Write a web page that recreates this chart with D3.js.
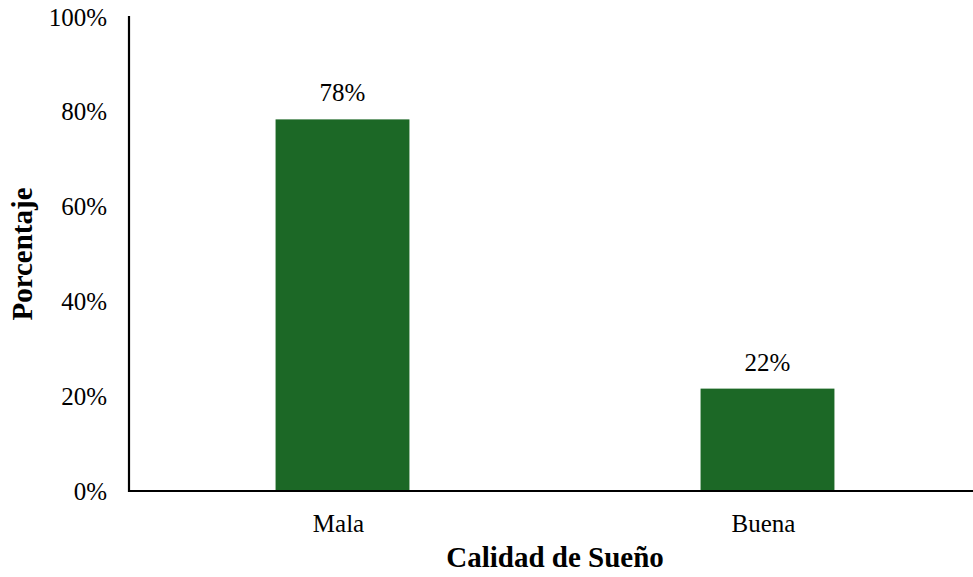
<!DOCTYPE html>
<html>
<head>
<meta charset="utf-8">
<script src="https://cdn.jsdelivr.net/npm/d3@7"></script>
<style>
  body { margin: 0; background: #fff; }
  svg { display: block; font-family: "Liberation Serif", "Times New Roman", serif; }
</style>
</head>
<body>
<svg id="chart" width="973" height="577"></svg>
<script>
// data
var categories = ["Mala", "Buena"];
var values = [78.4, 21.6];
var valueLabels = ["78%", "22%"];
var yTicks = [0, 20, 40, 60, 80, 100];

var svg = d3.select("#chart");
var W = 973;

var x = d3.scaleBand()
    .domain(categories)
    .range([130, 980])
    .paddingInner(0.685)
    .paddingOuter(0.3425);

var y = d3.scaleLinear()
    .domain([0, 100])
    .range([491, 17]);

// bars
svg.selectAll("rect.bar")
    .data(categories)
    .enter()
    .append("rect")
    .attr("class", "bar")
    .attr("x", d => x(d))
    .attr("width", x.bandwidth())
    .attr("y", (d, i) => y(values[i]))
    .attr("height", (d, i) => y(0) - y(values[i]))
    .style("fill", "#1c6826");

// value labels
svg.selectAll("text.val")
    .data(categories)
    .enter()
    .append("text")
    .attr("class", "val")
    .attr("x", d => x(d) + x.bandwidth() / 2)
    .attr("y", (d, i) => y(values[i]) - 18)
    .attr("text-anchor", "middle")
    .style("font-size", "25px")
    .style("fill", "#000")
    .text((d, i) => valueLabels[i]);

// y axis
var yAxis = d3.axisLeft(y)
    .tickValues(yTicks)
    .tickSize(0)
    .tickPadding(22)
    .tickFormat(d => d + "%");

var gy = svg.append("g")
    .attr("transform", "translate(129,0)")
    .call(yAxis);
gy.select(".domain").remove();
gy.selectAll("text")
    .style("font-family", "Liberation Serif, serif")
    .style("font-size", "25px")
    .style("fill", "#000");

// x axis labels
var xAxis = d3.axisBottom(x)
    .tickSize(0)
    .tickPadding(23);
var gx = svg.append("g")
    .attr("transform", "translate(-4,491)")
    .call(xAxis);
gx.select(".domain").remove();
gx.selectAll("text")
    .style("font-family", "Liberation Serif, serif")
    .style("font-size", "25px")
    .style("fill", "#000");

// axis lines
svg.append("line")
    .attr("x1", 129).attr("x2", 129)
    .attr("y1", 16).attr("y2", 492)
    .style("stroke", "#000").style("stroke-width", 2.2);
svg.append("line")
    .attr("x1", 128).attr("x2", W)
    .attr("y1", 491).attr("y2", 491)
    .style("stroke", "#000").style("stroke-width", 2.2);

// axis titles
svg.append("text")
    .attr("x", 555)
    .attr("y", 567)
    .attr("text-anchor", "middle")
    .style("font-size", "29px")
    .style("font-weight", "bold")
    .text("Calidad de Sueño");

svg.append("text")
    .attr("transform", "translate(32,254) rotate(-90)")
    .attr("text-anchor", "middle")
    .style("font-size", "29px")
    .style("font-weight", "bold")
    .text("Porcentaje");
</script>
</body>
</html>
